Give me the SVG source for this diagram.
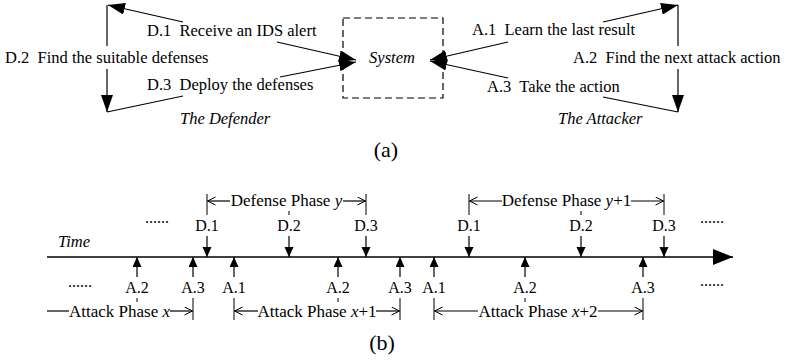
<svg xmlns="http://www.w3.org/2000/svg" width="785" height="360" viewBox="0 0 785 360">
  <style>
    text { font-family: "Liberation Serif", "Times New Roman", serif; fill: #000; }
    .lbl { font-size: 16.5px; }
    .it { font-style: italic; }
    .tl { font-size: 16px; text-anchor: middle; }
    .ph { font-size: 17px; text-anchor: middle; }
    .cap { font-size: 22px; text-anchor: middle; }
    .dots { font-size: 16px; }
    .ln { stroke: #000; stroke-width: 1.2; fill: none; }
    .big { marker-end: url(#big); }
    .sm { marker-end: url(#sm); }
    .op { marker-end: url(#open); }
    .bar { stroke: #000; stroke-width: 1; }
    .tick { stroke: #000; stroke-width: 1; }
  </style>
  <defs>
    <marker id="big" markerUnits="userSpaceOnUse" markerWidth="18" markerHeight="12" viewBox="0 0 18 12" refX="17" refY="6" orient="auto">
      <path d="M0,0 L17,6 L0,12 Z" fill="#000"/>
    </marker>
    <marker id="sm" markerUnits="userSpaceOnUse" markerWidth="11" markerHeight="10" viewBox="0 0 11 10" refX="10" refY="4.5" orient="auto">
      <path d="M0,0 L10,4.5 L0,9 Z" fill="#000"/>
    </marker>
    <marker id="open" markerUnits="userSpaceOnUse" markerWidth="10" markerHeight="10" viewBox="0 0 10 10" refX="8.5" refY="4.5" orient="auto">
      <path d="M0.5,0.5 L8.5,4.5 L0.5,8.5" fill="none" stroke="#000" stroke-width="1"/>
    </marker>
    <marker id="ax" markerUnits="userSpaceOnUse" markerWidth="21" markerHeight="17" viewBox="0 0 21 17" refX="20" refY="8" orient="auto">
      <path d="M0,0 L20,8 L0,16 Z" fill="#000"/>
    </marker>
  </defs>

  <!-- (a) interaction loop -->
  <g id="system">
    <rect x="343" y="18" width="100" height="80" fill="none" stroke="#000" stroke-width="1.2" stroke-dasharray="7 4"/>
    <text class="lbl it" x="392" y="63" text-anchor="middle">System</text>
  </g>

  <g id="defender">
    <text class="lbl" x="147" y="36" xml:space="preserve">D.1  Receive an IDS alert</text>
    <text class="lbl" x="5" y="63" xml:space="preserve">D.2  Find the suitable defenses</text>
    <text class="lbl" x="147" y="90" xml:space="preserve">D.3  Deploy the defenses</text>
    <text class="lbl it" x="180" y="124">The Defender</text>
  </g>

  <g id="attacker">
    <text class="lbl" x="472" y="35" xml:space="preserve">A.1  Learn the last result</text>
    <text class="lbl" x="573" y="63" xml:space="preserve">A.2  Find the next attack action</text>
    <text class="lbl" x="487" y="92" xml:space="preserve">A.3  Take the action</text>
    <text class="lbl it" x="558" y="124">The Attacker</text>
  </g>

  <g id="connectors">
    <!-- defender loop -->
    <line class="ln big" x1="183" y1="22" x2="108" y2="5"/>
    <line class="ln" x1="107" y1="5" x2="107" y2="46"/>
    <line class="ln big" x1="107" y1="69" x2="107" y2="112"/>
    <line class="ln" x1="107" y1="112" x2="183" y2="96"/>
    <line class="ln big" x1="277" y1="42" x2="356" y2="60"/>
    <line class="ln big" x1="280" y1="77" x2="356" y2="62"/>
    <!-- attacker loop -->
    <line class="ln big" x1="508" y1="42" x2="430" y2="60"/>
    <line class="ln big" x1="508" y1="78" x2="430" y2="61"/>
    <line class="ln big" x1="603" y1="22" x2="678" y2="5"/>
    <line class="ln" x1="678" y1="5" x2="678" y2="46"/>
    <line class="ln big" x1="678" y1="69" x2="678" y2="112"/>
    <line class="ln" x1="678" y1="112" x2="603" y2="97"/>
  </g>

  <text class="cap" x="386" y="157">(a)</text>

  <!-- (b) timeline -->
  <g id="timeline">
    <line x1="47" y1="257" x2="733" y2="257" stroke="#000" stroke-width="1.5" marker-end="url(#ax)"/>
    <text class="lbl it" x="58" y="247">Time</text>
  </g>

  <g id="defense-events">
    <line class="ln sm" x1="207" y1="236" x2="207" y2="257"/>
    <line class="ln sm" x1="289" y1="236" x2="289" y2="257"/>
    <line class="ln sm" x1="366" y1="236" x2="366" y2="257"/>
    <line class="ln sm" x1="469" y1="236" x2="469" y2="257"/>
    <line class="ln sm" x1="581" y1="236" x2="581" y2="257"/>
    <line class="ln sm" x1="664" y1="236" x2="664" y2="257"/>
    <text class="tl" x="207" y="231">D.1</text>
    <text class="tl" x="289" y="231">D.2</text>
    <text class="tl" x="366" y="231">D.3</text>
    <text class="tl" x="469" y="231">D.1</text>
    <text class="tl" x="581" y="231">D.2</text>
    <text class="tl" x="664" y="231">D.3</text>
    <line class="tick" x1="289" y1="211" x2="289" y2="215"/>
    <line class="tick" x1="581" y1="211" x2="581" y2="215"/>
    <text class="dots" x="145" y="223">......</text>
    <text class="dots" x="700" y="223">......</text>
  </g>

  <g id="defense-phases">
    <line class="bar" x1="207" y1="194" x2="207" y2="215"/>
    <line class="bar" x1="366" y1="194" x2="366" y2="215"/>
    <line class="ln op" x1="230" y1="201" x2="207.5" y2="201"/>
    <line class="ln op" x1="343" y1="201" x2="365.5" y2="201"/>
    <text class="ph" x="286.5" y="206">Defense Phase <tspan class="it">y</tspan></text>

    <line class="bar" x1="469" y1="194" x2="469" y2="215"/>
    <line class="bar" x1="664" y1="194" x2="664" y2="215"/>
    <line class="ln op" x1="502" y1="201" x2="469.5" y2="201"/>
    <line class="ln op" x1="631" y1="201" x2="663.5" y2="201"/>
    <text class="ph" x="566.5" y="206">Defense Phase <tspan class="it">y</tspan>+1</text>
  </g>

  <g id="attack-events">
    <line class="ln sm" x1="137" y1="277" x2="137" y2="257"/>
    <line class="ln sm" x1="193" y1="277" x2="193" y2="257"/>
    <line class="ln sm" x1="234" y1="277" x2="234" y2="257"/>
    <line class="ln sm" x1="338" y1="277" x2="338" y2="257"/>
    <line class="ln sm" x1="400" y1="277" x2="400" y2="257"/>
    <line class="ln sm" x1="434" y1="277" x2="434" y2="257"/>
    <line class="ln sm" x1="525" y1="277" x2="525" y2="257"/>
    <line class="ln sm" x1="643" y1="277" x2="643" y2="257"/>
    <text class="tl" x="137" y="293">A.2</text>
    <text class="tl" x="193" y="293">A.3</text>
    <text class="tl" x="234" y="293">A.1</text>
    <text class="tl" x="338" y="293">A.2</text>
    <text class="tl" x="400" y="293">A.3</text>
    <text class="tl" x="434" y="293">A.1</text>
    <text class="tl" x="525" y="293">A.2</text>
    <text class="tl" x="643" y="293">A.3</text>
    <line class="tick" x1="137" y1="298" x2="137" y2="302"/>
    <line class="tick" x1="338" y1="298" x2="338" y2="302"/>
    <line class="tick" x1="525" y1="298" x2="525" y2="302"/>
    <text class="dots" x="68" y="287">......</text>
    <text class="dots" x="700" y="286">......</text>
  </g>

  <g id="attack-phases">
    <line class="ln" x1="47" y1="311" x2="69" y2="311"/>
    <line class="ln op" x1="170" y1="311" x2="192.5" y2="311"/>
    <line class="bar" x1="193" y1="298" x2="193" y2="320"/>
    <text class="ph" x="119.5" y="317">Attack Phase <tspan class="it">x</tspan></text>

    <line class="bar" x1="234" y1="298" x2="234" y2="320"/>
    <line class="bar" x1="400" y1="298" x2="400" y2="320"/>
    <line class="ln op" x1="258" y1="311" x2="234.5" y2="311"/>
    <line class="ln op" x1="376" y1="311" x2="399.5" y2="311"/>
    <text class="ph" x="317" y="317">Attack Phase <tspan class="it">x</tspan>+1</text>

    <line class="bar" x1="434" y1="298" x2="434" y2="320"/>
    <line class="bar" x1="643" y1="298" x2="643" y2="320"/>
    <line class="ln op" x1="478" y1="311" x2="434.5" y2="311"/>
    <line class="ln op" x1="598" y1="311" x2="642.5" y2="311"/>
    <text class="ph" x="538" y="317">Attack Phase <tspan class="it">x</tspan>+2</text>
  </g>

  <text class="cap" x="382" y="350">(b)</text>
</svg>
